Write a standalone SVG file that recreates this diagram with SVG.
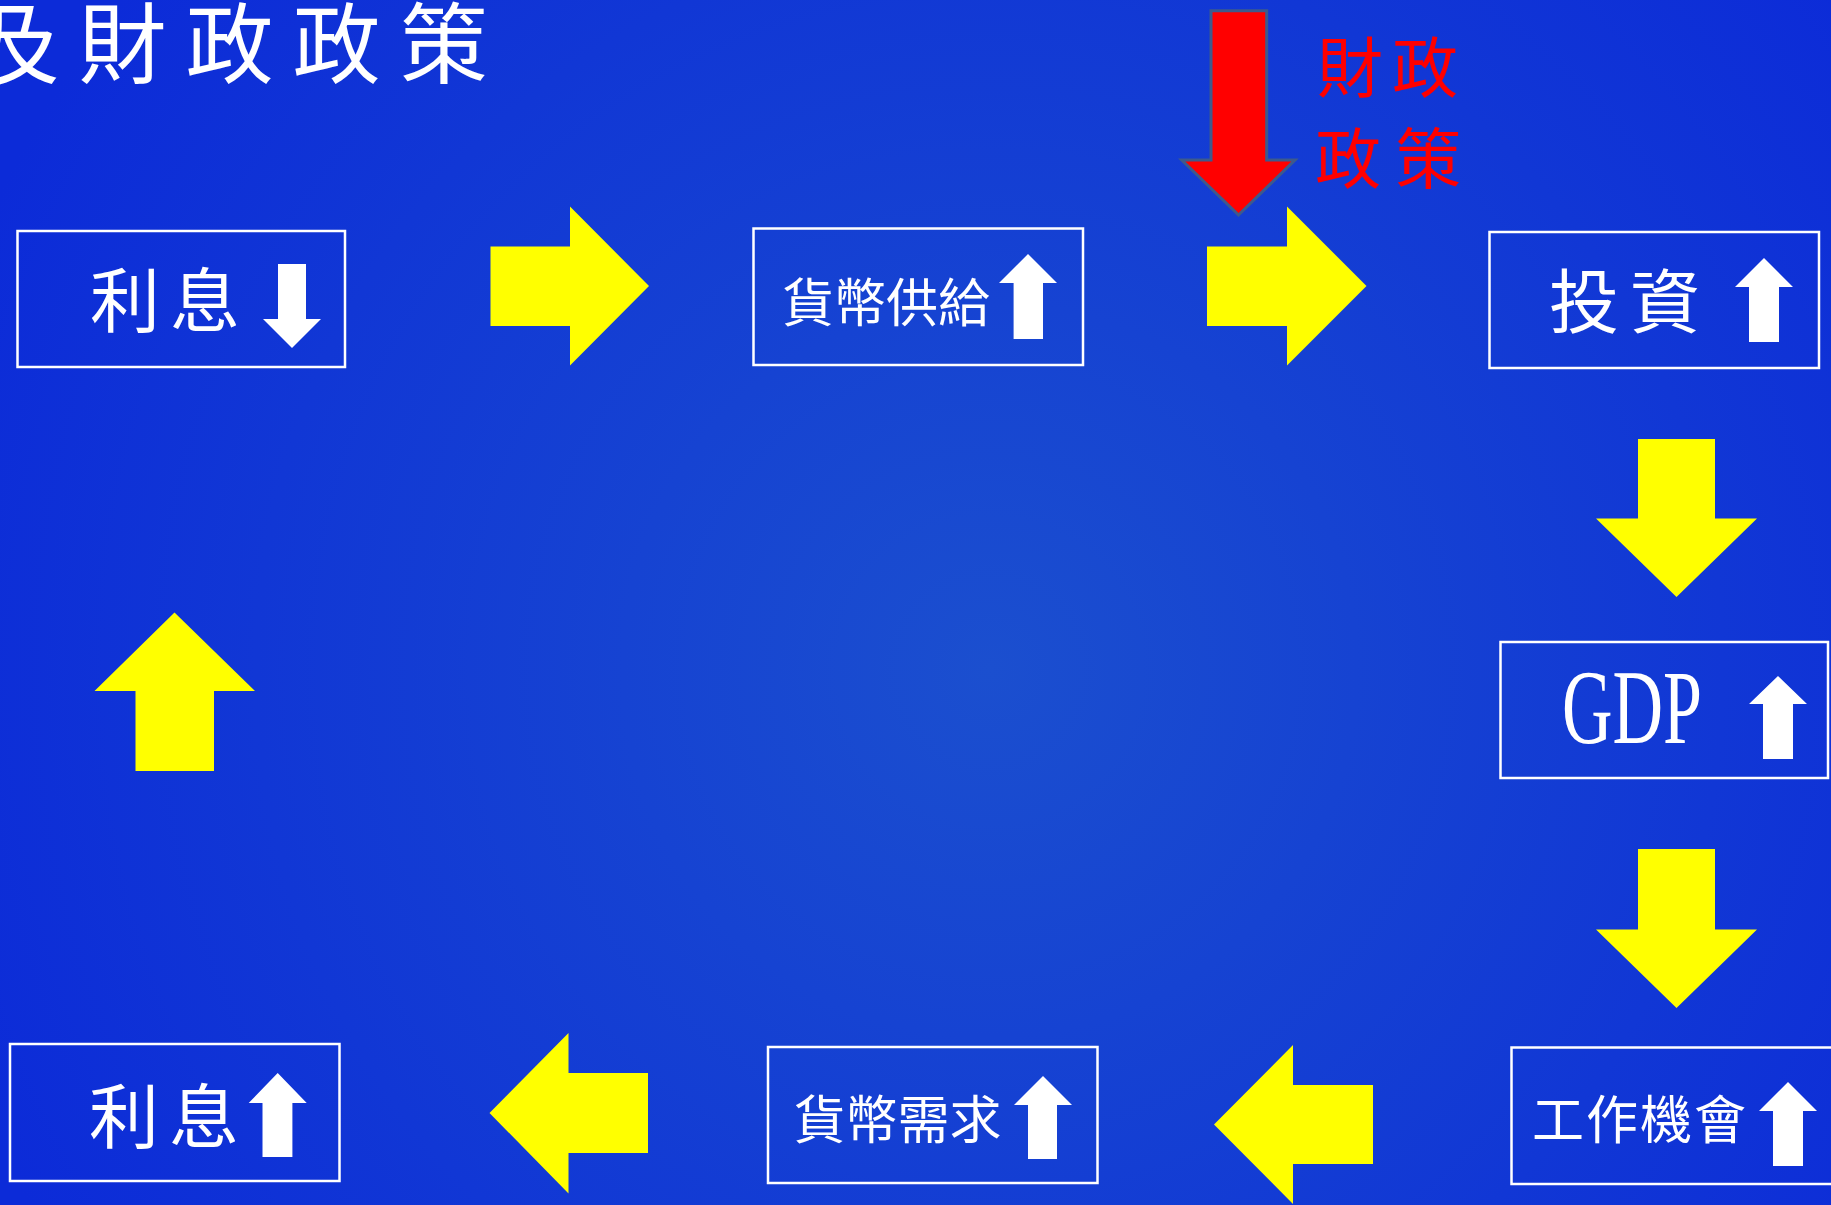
<svg xmlns="http://www.w3.org/2000/svg" width="1831" height="1205" viewBox="0 0 1831 1205">
  <defs>
    <radialGradient id="bg" cx="990" cy="670" r="1100" gradientUnits="userSpaceOnUse">
      <stop offset="0" stop-color="#1b4fcf"/>
      <stop offset="1" stop-color="#0c2bd8"/>
    </radialGradient>
    <style>
      .box { fill: none; stroke: #ffffff; stroke-width: 2.5; }
      .cjk { font-family: "Noto Sans CJK TC", "Noto Sans CJK SC", sans-serif; fill: #ffffff; }
      .warr { fill: #ffffff; }
      .yarr { fill: #ffff00; }
    </style>
  </defs>
  <rect x="0" y="0" width="1831" height="1205" fill="url(#bg)"/>

  <g id="title">
    <text class="cjk" x="-28.5" y="76" font-size="88" letter-spacing="19">及財政政策</text>
  </g>

  <g id="fiscal-policy">
    <polygon points="1211,10.7 1266.7,10.7 1266.7,160 1295,160 1238.5,215 1181.7,160 1211,160" fill="#ff0000" stroke="#3d5a8c" stroke-width="3"/>
    <text class="cjk" x="1317" y="92" font-size="66" letter-spacing="9" style="fill:#ff0000">財政</text>
    <text class="cjk" x="1315" y="183" font-size="66" letter-spacing="14" style="fill:#ff0000">政策</text>
  </g>

  <g id="node-interest-down">
    <rect class="box" x="17.5" y="231" width="327.5" height="136"/>
    <text class="cjk" x="90" y="327" font-size="70" letter-spacing="10">利息</text>
    <polygon class="warr" points="278,264 306,264 306,319 321,319 292,348 263,319 278,319"/>
  </g>

  <g id="node-money-supply-up">
    <rect class="box" x="753.5" y="228.5" width="329.5" height="136.5"/>
    <text class="cjk" x="782" y="322" font-size="52" letter-spacing="0">貨幣供給</text>
    <polygon class="warr" points="1028,254 1057,283 1043,283 1043,339 1013.6,339 1013.6,283 999,283"/>
  </g>

  <g id="node-investment-up">
    <rect class="box" x="1489.5" y="232" width="329.5" height="136"/>
    <text class="cjk" x="1549" y="328" font-size="70" letter-spacing="11">投資</text>
    <polygon class="warr" points="1764,258 1793,287 1779,287 1779,342 1749,342 1749,287 1735,287"/>
  </g>

  <g id="node-gdp-up">
    <rect class="box" x="1500.5" y="642" width="327.5" height="136"/>
    <text x="1562" y="743" font-family="'Liberation Serif', serif" font-size="106" fill="#ffffff" textLength="140" lengthAdjust="spacingAndGlyphs">GDP</text>
    <polygon class="warr" points="1778,676 1807,704 1793,704 1793,759 1763,759 1763,704 1749,704"/>
  </g>

  <g id="node-jobs-up">
    <rect class="box" x="1511.5" y="1047.5" width="340" height="136.5"/>
    <text class="cjk" x="1532" y="1139" font-size="52" letter-spacing="2">工作機會</text>
    <polygon class="warr" points="1788,1082 1817,1111 1803,1111 1803,1166 1773,1166 1773,1111 1759,1111"/>
  </g>

  <g id="node-money-demand-up">
    <rect class="box" x="768" y="1047" width="329.5" height="136"/>
    <text class="cjk" x="793.5" y="1139" font-size="52" letter-spacing="0">貨幣需求</text>
    <polygon class="warr" points="1043,1076 1072,1105 1057,1105 1057,1159 1028,1159 1028,1105 1014,1105"/>
  </g>

  <g id="node-interest-up">
    <rect class="box" x="10" y="1044" width="329.5" height="137"/>
    <text class="cjk" x="89" y="1143" font-size="70" letter-spacing="10">利息</text>
    <polygon class="warr" points="277.7,1073 306.7,1103 292.4,1103 292.4,1157 262.5,1157 262.5,1103 248.7,1103"/>
  </g>

  <g id="connectors">
    <polygon class="yarr" points="490.5,246.5 570,246.5 570,206.5 649,286 570,365.5 570,326 490.5,326"/>
    <polygon class="yarr" points="1207,246.5 1287,246.5 1287,206.5 1366.5,286 1287,365.5 1287,326 1207,326"/>
    <polygon class="yarr" points="1638,439 1715,439 1715,518.5 1757,518.5 1676.5,597 1596,518.5 1638,518.5"/>
    <polygon class="yarr" points="1638,849 1715,849 1715,929.5 1757,929.5 1676.5,1008 1596,929.5 1638,929.5"/>
    <polygon class="yarr" points="1373,1085 1293,1085 1293,1045 1214,1124.5 1293,1204 1293,1164 1373,1164"/>
    <polygon class="yarr" points="648,1073 568.5,1073 568.5,1033 489.5,1113 568.5,1193.5 568.5,1153 648,1153"/>
    <polygon class="yarr" points="174.5,612.5 255,691 214,691 214,771 135.5,771 135.5,691 94.5,691"/>
  </g>
</svg>
